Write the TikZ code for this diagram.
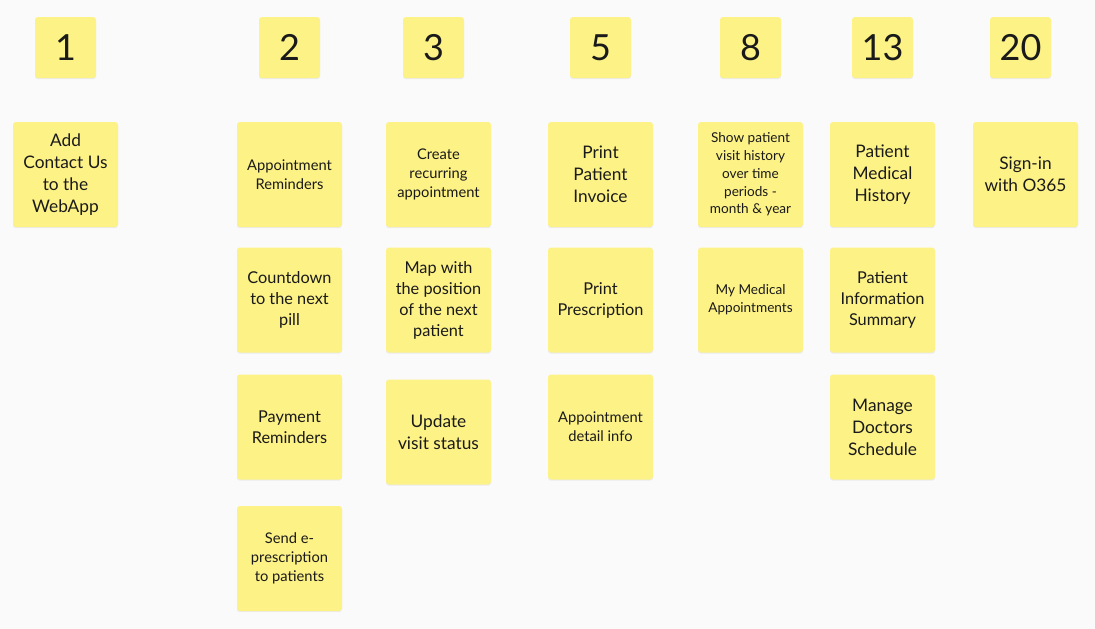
\documentclass[tikz,border=0pt]{standalone}
\usepackage{fontspec}
\setmainfont{Lato}
\usetikzlibrary{shadows}
\definecolor{sticky}{HTML}{FDF286}
\definecolor{board}{HTML}{FAFAFA}
\definecolor{ink}{HTML}{1A1A1A}

\begin{document}
\begin{tikzpicture}[x=1pt,y=-1pt,text=ink,
      note/.style={fill=sticky,rounded corners=3pt,minimum width=105pt,minimum height=105pt,inner sep=2pt,align=center,
        drop shadow={opacity=0.12,shadow xshift=0pt,shadow yshift=-1.2pt}},
      num/.style={note,minimum width=61pt,minimum height=61pt,font=\fontsize{36}{36}\selectfont},
      big/.style={font=\fontsize{17.3}{22}\selectfont},
      mid/.style={font=\fontsize{16.3}{21}\selectfont},
      small/.style={font=\fontsize{14.7}{19}\selectfont},
      tiny/.style={font=\fontsize{13.6}{17.7}\selectfont}]
    \fill[board] (0,0) rectangle (1095,629);
    \useasboundingbox (0,0) rectangle (1095,629);
    % estimate headers
    \node[num] (n1) at (65.5,47.5) {1};
    \node[num] (n2) at (289.5,47.5) {2};
    \node[num] (n3) at (433.5,47.5) {3};
    \node[num] (n5) at (600.5,47.5) {5};
    \node[num] (n8) at (750.5,47.5) {8};
    \node[num] (n13) at (882.5,47.5) {13};
    \node[num] (n20) at (1020.5,47.5) {20};
    % 1
    \node[note,big] (contact) at (65.5,174.5) {Add\\Contact Us\\to the\\WebApp};
    % 2
    \node[note,small] (apptrem) at (289.5,174.5) {Appointment\\Reminders};
    \node[note,mid] (countdown) at (289.5,300) {Countdown\\to the next\\pill};
    \node[note,mid] (payrem) at (289.5,427) {Payment\\Reminders};
    \node[note,small] (eprescr) at (289.5,558.5) {Send e-\\prescription\\to patients};
    % 3
    \node[note,small] (recurring) at (438.5,174.5) {Create\\recurring\\appointment};
    \node[note,mid] (map) at (438.5,300) {Map with\\the position\\of the next\\patient};
    \node[note,big] (visitstatus) at (438.5,432) {Update\\visit status};
    % 5
    \node[note,big] (invoice) at (600.5,174.5) {Print\\Patient\\Invoice};
    \node[note,mid] (prescription) at (600.5,300) {Print\\Prescription};
    \node[note,small] (apptdetail) at (600.5,427) {Appointment\\detail info};
    % 8
    \node[note,tiny] (visithist) at (750.5,174.5) {Show patient\\visit history\\over time\\periods -\\month \& year};
    \node[note,tiny] (myappts) at (750.5,300) {My Medical\\Appointments};
    % 13
    \node[note,big] (medhist) at (882.5,174.5) {Patient\\Medical\\History};
    \node[note,mid] (infosummary) at (882.5,300) {Patient\\Information\\Summary};
    \node[note,big] (doctors) at (882.5,427) {Manage\\Doctors\\Schedule};
    % 20
    \node[note,big] (signin) at (1025.5,174.5) {Sign-in\\with O365};
  \end{tikzpicture}
\end{document}
